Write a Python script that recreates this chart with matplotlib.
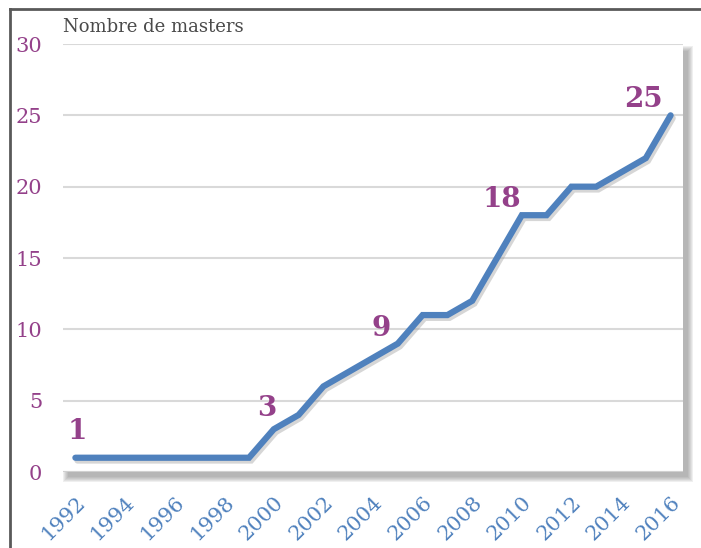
import matplotlib.pyplot as plt
import matplotlib.patheffects as pe
from matplotlib.patches import Rectangle
from matplotlib.lines import Line2D

# données
annees = list(range(1992, 2017))
masters = [1, 1, 1, 1, 1, 1, 1, 1, 3, 4, 6, 7, 8, 9, 11, 11, 12, 15, 18, 18, 20, 20, 21, 22, 25]
annotes = [1992, 2000, 2005, 2010, 2016]
decalages = [(2, 13), (-7, 7), (-17, 2), (-20, 2), (-27, 2)]  # en pixels
yticks = [0, 5, 10, 15, 20, 25, 30]

violet = '#94418A'
bleu = '#4F81BD'
police = 'DejaVu Serif'

W, H = 701, 548
fig = plt.figure(figsize=(W / 100, H / 100), dpi=100)

# cadre extérieur (seulement gauche et haut visibles)
fig.add_artist(Line2D([10 / W, 10 / W], [0, 1 - 9 / H], transform=fig.transFigure,
                      color='#595959', linewidth=2))
fig.add_artist(Line2D([10 / W, 700 / W], [1 - 9 / H, 1 - 9 / H], transform=fig.transFigure,
                      color='#595959', linewidth=2))

# zone de tracé (en pixels)
x0, y0, w, h = 63, 76, 620, 428
ax = fig.add_axes([x0 / W, y0 / H, w / W, h / H])
ax.set_zorder(2)
ax.patch.set_alpha(0)

# ombre douce
for k in range(6):
    fig.patches.append(Rectangle(((x0 + 5 - k) / W, (y0 - 5 - k) / H), (w + 2 * k) / W, (h - 2 + 2 * k) / H,
                                 transform=fig.transFigure, facecolor='#707070', alpha=0.11,
                                 edgecolor='none', zorder=0.5))
fig.patches.append(Rectangle((x0 / W, y0 / H), w / W, h / H, transform=fig.transFigure,
                             facecolor='white', edgecolor='none', zorder=1))

ax.plot(annees, masters, color=bleu, linewidth=4.5, solid_capstyle='round', solid_joinstyle='miter',
        path_effects=[pe.SimpleLineShadow(offset=(1.5, -2), shadow_color='#999999', alpha=0.4), pe.Normal()],
        zorder=3)

for a, (dx, dy) in zip(annotes, decalages):
    v = masters[annees.index(a)]
    ax.annotate(str(v), (a, v), xytext=(dx, dy), textcoords='offset pixels',
                ha='center', va='bottom', fontsize=20, fontweight='bold',
                color=violet, family=police)

ax.set_xlim(1991.5, 2016.5)
ax.set_ylim(0, 30)
ax.set_yticks(yticks)
ax.set_xticks(annees[::2])
ax.grid(axis='y', color='#D9D9D9', linewidth=1.5)
ax.set_axisbelow(True)
for s in ax.spines.values():
    s.set_visible(False)
ax.axhline(0, color='#D0D0D0', linewidth=1.5, zorder=1)
ax.tick_params(length=0)
ax.tick_params(axis='y', labelcolor=violet, labelsize=15, pad=15)
ax.tick_params(axis='x', labelcolor=bleu, labelsize=15, pad=15)
for t in ax.get_yticklabels():
    t.set_family(police)
for t in ax.get_xticklabels():
    t.set_family(police)
    t.set_rotation(45)
    t.set_ha('right')
    t.set_rotation_mode('anchor')

fig.text(63 / W, 1 - 27 / H, 'Nombre de masters', fontsize=13, color='#4A4A4A',
         family=police, va='center', ha='left')

fig.savefig('out.png', dpi=100)
